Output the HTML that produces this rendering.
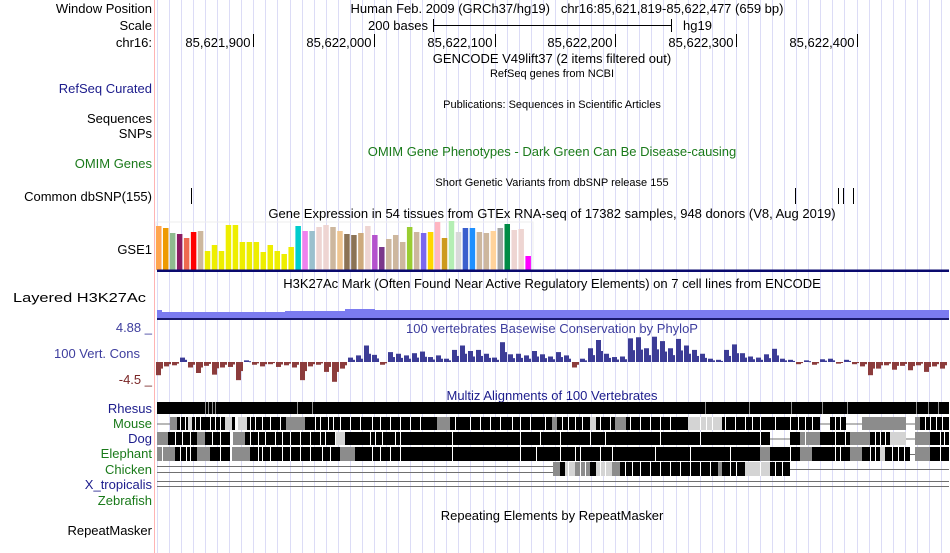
<!DOCTYPE html>
<html><head><meta charset="utf-8"><style>
html,body{margin:0;padding:0;background:#fff;}
svg{display:block;font-family:"Liberation Sans",sans-serif;}
</style></head><body>
<svg id="c" width="950" height="553" viewBox="0 0 950 553">
<g id="grid"></g>
<line x1="154.5" y1="0" x2="154.5" y2="553" stroke="#ffb4b4"/>
<g font-size="13" fill="#000" text-anchor="end">
<text x="152" y="13">Window Position</text>
<text x="152" y="30">Scale</text>
<text x="152" y="47">chr16:</text>
<text x="152" y="93" fill="#1c1c8c">RefSeq Curated</text>
<text x="152" y="123">Sequences</text>
<text x="152" y="138">SNPs</text>
<text x="152" y="168" fill="#1a7a1a">OMIM Genes</text>
<text x="152" y="201">Common dbSNP(155)</text>
<text x="152" y="254">GSE1</text>
<text x="146" y="302" textLength="133" lengthAdjust="spacingAndGlyphs">Layered H3K27Ac</text>
<text x="152" y="332" fill="#3e3e9e">4.88 _</text>
<text x="140" y="358" fill="#3e3e9e">100 Vert. Cons</text>
<text x="152" y="384" fill="#7a2626">-4.5 _</text>
<text x="152" y="413" fill="#1c1c8c">Rhesus</text>
<text x="152" y="428" fill="#1a7a1a">Mouse</text>
<text x="152" y="443" fill="#1c1c8c">Dog</text>
<text x="152" y="458" fill="#1a7a1a">Elephant</text>
<text x="152" y="474" fill="#1a7a1a">Chicken</text>
<text x="152" y="489" fill="#1c1c8c">X_tropicalis</text>
<text x="152" y="505" fill="#1a7a1a">Zebrafish</text>
<text x="152" y="535">RepeatMasker</text>
</g>
<g font-size="13" text-anchor="middle">
<text x="567" y="13">Human Feb. 2009 (GRCh37/hg19)&#160;&#160;&#160;chr16:85,621,819-85,622,477 (659 bp)</text>
<text x="552" y="63">GENCODE V49lift37 (2 items filtered out)</text>
<text x="552" y="77" font-size="11">RefSeq genes from NCBI</text>
<text x="552" y="108" font-size="11">Publications: Sequences in Scientific Articles</text>
<text x="552" y="156" fill="#1a7a1a">OMIM Gene Phenotypes - Dark Green Can Be Disease-causing</text>
<text x="552" y="186" font-size="11">Short Genetic Variants from dbSNP release 155</text>
<text x="552" y="218">Gene Expression in 54 tissues from GTEx RNA-seq of 17382 samples, 948 donors (V8, Aug 2019)</text>
<text x="552" y="288">H3K27Ac Mark (Often Found Near Active Regulatory Elements) on 7 cell lines from ENCODE</text>
<text x="552" y="333" fill="#3e3e9e">100 vertebrates Basewise Conservation by PhyloP</text>
<text x="552" y="400" fill="#1c1c8c">Multiz Alignments of 100 Vertebrates</text>
<text x="552" y="520">Repeating Elements by RepeatMasker</text>
</g>
<g font-size="13">
<text x="428" y="30" text-anchor="end">200 bases</text>
<line x1="433" y1="25.5" x2="672" y2="25.5" stroke="#000"/>
<line x1="433.5" y1="19" x2="433.5" y2="32" stroke="#000"/>
<line x1="671.5" y1="19" x2="671.5" y2="32" stroke="#000"/>
<text x="683" y="30">hg19</text>
</g>
<g id="ruler" font-size="13"></g>
<g id="snps"></g>
<g id="gtex"></g>
<rect x="157" y="269.5" width="792" height="2.5" fill="#0a0a6e"/>
<g>
<rect x="157" y="312" width="792" height="6" fill="#7b7bf0"/>
<rect x="157" y="310" width="5" height="2" fill="#7b7bf0"/>
<rect x="285" y="311" width="80" height="1" fill="#7b7bf0"/>
<rect x="345" y="309" width="30" height="3" fill="#7b7bf0"/>
<rect x="345" y="310" width="604" height="2" fill="#7b7bf0"/>
<rect x="157" y="318" width="792" height="2" fill="#1a1a6e"/>
</g>
<g id="cons"></g>
<g id="multiz"></g>
</svg>
<script>
// GTEx expression (relative heights, px)
const gtexValues=[44,42,37,36,32,38,39,19,25,19,45,45,28,28,28,18,25,19,16,23,44,39,39,43,45,43,39,36,35,37,44,35,23,31,35,28,43,38,37,38,48,32,49,38,42,42,38,37,39,42,46,40,41,14];
const gtexColors=["#FFA54F","#EE9A00","#8FBC8F","#8B1C62","#EE6A50","#FF0000","#CDB79E","#EEEE00","#EEEE00","#EEEE00","#EEEE00","#EEEE00","#EEEE00","#EEEE00","#EEEE00","#EEEE00","#EEEE00","#EEEE00","#EEEE00","#EEEE00","#00CDCD","#EE82EE","#9AC0CD","#EED5D2","#EED5D2","#CDB79E","#EEC591","#8B7355","#8B7355","#CDAA7D","#EED5D2","#B452CD","#7A378B","#CDB79E","#CDB79E","#CDB79E","#9ACD32","#CDB79E","#7A67EE","#FFD700","#FFB6C1","#CD9B1D","#B4EEB4","#D9D9D9","#3A5FCD","#1E90FF","#CDB79E","#CDB79E","#FFD39B","#A6A6A6","#008B45","#EED5D2","#EED5D2","#FF00FF"];
// PhyloP scores, sampled every 10 bp approx
const consValues=[-2.4,-0.8,-0.6,0.8,-1.0,-2.0,-0.7,-2.3,-1.0,-0.9,-3.3,0.3,-0.5,-0.8,-0.4,-0.9,-0.6,-1.0,-3.3,-0.8,-0.5,-1.8,-3.6,-1.2,0.8,1.2,3.0,1.3,-0.5,1.8,1.5,1.2,1.6,1.9,0.9,1.2,0.6,2.2,3.0,2.0,2.2,1.5,0.8,3.6,1.4,1.5,1.2,2.0,1.4,1.0,1.8,1.2,-1.0,0.6,2.5,4.0,1.5,0.9,1.0,4.3,4.5,2.5,4.6,3.8,2.5,4.2,3.0,2.2,1.5,0.6,0.4,2.2,3.2,1.6,1.0,0.8,1.4,2.4,0.6,0.4,-0.4,0.3,-0.5,0.5,0.6,-0.3,0.4,-0.4,-0.8,-2.4,-1.2,-0.6,-1.4,-0.7,-1.5,-0.6,-1.8,-0.8,-1.2];
const rulerTicks=[85621900,85622000,85622100,85622200,85622300,85622400];
const rulerLabels=["85,621,900","85,622,000","85,622,100","85,622,200","85,622,300","85,622,400"];
const snpPositions=[85621848,85622349,85622385,85622389,85622397];

const NS='http://www.w3.org/2000/svg';
const bpStart=85621819, pxPerBp=795/659, left=155;
const xBp=bp=>left+(bp-bpStart+0.5)*pxPerBp;
function mk(tag,attrs,parent){const e=document.createElementNS(NS,tag);for(const k in attrs)e.setAttribute(k,attrs[k]);parent.appendChild(e);return e;}
const $=id=>document.getElementById(id);

// grid
for(let bp=85621820;bp<=85622480;bp+=10){const x=Math.round(xBp(bp))+0.5;if(x>155&&x<950){const l=mk('line',{x1:x,y1:0,x2:x,y2:553,stroke:'#dcdcf6'},$('grid'));

}}

// ruler
rulerTicks.forEach((bp,i)=>{const x=Math.round(xBp(bp))+0.5;
const l=mk('line',{x1:x,y1:34,x2:x,y2:47,stroke:'#000'},$('ruler'));


const t=mk('text',{x:x-3,y:47,'text-anchor':'end'},$('ruler'));t.textContent=rulerLabels[i];

});

// dbSNP ticks
snpPositions.forEach(bp=>{const x=Math.round(xBp(bp))+0.5;
const l=mk('line',{x1:x,y1:188,x2:x,y2:204,stroke:'#000'},$('snps'));

});

// GTEx
mk('rect',{x:156,y:222,width:377,height:48,fill:'none',stroke:'#eeeeee'},$('gtex'));
const gBase=270, gStep=6.97;
gtexValues.forEach((v,i)=>{const r=mk('rect',{x:156+i*gStep,y:gBase-v,width:5.5,height:v,fill:gtexColors[i]},$('gtex'));

});

// PhyloP
const zeroY=362, unit=5.5, cStep=8;
consValues.forEach((v,i)=>{const x=156+i*cStep;const h=Math.abs(v)*unit;
const r=mk('rect',{x:x,y:v>=0?zeroY-h:zeroY,width:5,height:Math.max(h,1),fill:v>=0?'#3c3c96':'#8c3c3c'},$('cons'));


const r2=mk('rect',{x:x+5,y:v>=0?zeroY-h*0.5:zeroY,width:2,height:Math.max(h*0.5,1),fill:v>=0?'#3c3c96':'#8c3c3c'},$('cons'));

});

// Multiz rows: [x0,x1,type]
const C={k:'#000',g:'#8c8c8c',l:'#d4d4d4'};
const rows=[
 {y:402,h:12,seg:[[157,949,'k']],div:[205,208,212,215,297,312,705,749,791,822,847,916,928,938]},
 {y:417,h:13,seg:[[157,170,'-'],[170,177,'g'],[177,235,'k'],[188,192,'l'],[225,232,'l'],[238,247,'l'],[247,286,'k'],[286,305,'g'],[305,437,'k'],[437,450,'g'],[450,552,'k'],[552,557,'g'],[557,590,'k'],[590,596,'l'],[596,615,'k'],[615,626,'g'],[626,688,'k'],[688,722,'l'],[722,820,'k'],[820,830,'-'],[830,846,'k'],[846,862,'-'],[862,878,'g'],[878,891,'g'],[891,906,'g'],[906,915,'-'],[915,949,'k'],[915,920,'g']],div:[180,185,195,200,210,215,220,250,255,262,270,280,315,320,328,333,340,350,360,372,380,390,400,410,420,455,470,480,490,500,512,520,530,545,562,568,575,582,600,610,630,640,650,660,670,700,706,712,725,735,745,752,760,775,790,798,805,812,835,840,925,930,936,942]},
 {y:432,h:13,seg:[[157,168,'g'],[168,197,'k'],[197,205,'g'],[205,230,'k'],[233,245,'g'],[245,335,'k'],[336,345,'l'],[345,770,'k'],[770,790,'-'],[790,800,'k'],[800,820,'g'],[820,850,'k'],[850,870,'g'],[870,890,'k'],[890,906,'l'],[906,915,'-'],[915,930,'g'],[930,949,'k']],div:[175,182,190,212,220,250,258,265,275,282,290,300,310,320,325,370,375,382,395,400,452,520,540,560,590,605,660,700,760,805,835,845,875,880,885,940,944]},
 {y:447,h:14,seg:[[157,175,'g'],[175,197,'k'],[197,210,'g'],[210,230,'k'],[232,250,'g'],[250,340,'k'],[340,355,'g'],[355,760,'k'],[760,770,'g'],[770,800,'k'],[800,812,'g'],[812,850,'k'],[850,862,'g'],[862,880,'k'],[880,885,'l'],[885,910,'k'],[910,915,'-'],[915,930,'g'],[930,949,'k']],div:[162,180,186,190,220,258,262,270,282,290,300,310,322,330,372,380,390,400,452,520,536,560,575,580,600,612,655,690,730,790,835,840,870,875,892,898,904,940]},
 {y:462,h:14,seg:[[157,553,'='],[553,560,'g'],[560,565,'k'],[565,575,'l'],[575,590,'g'],[590,596,'k'],[596,612,'l'],[612,620,'g'],[620,718,'k'],[718,722,'g'],[722,745,'k'],[745,770,'l'],[770,790,'k'],[790,949,'-']],div:[568,580,585,600,605,625,632,640,650,660,670,680,690,700,710,730,736,760,775,782]}
];
rows.forEach((row,ri)=>{const g=mk('g',{},$('multiz'));


row.seg.forEach(s=>{
 if(s[2]==='-'){const l=mk('line',{x1:s[0],y1:row.y+row.h/2+0.5,x2:s[1],y2:row.y+row.h/2+0.5,stroke:'#707070'},g);
  
  }
 else if(s[2]==='='){[row.y+4.5,row.y+10.5].forEach(yy=>{const l=mk('line',{x1:s[0],y1:yy,x2:s[1],y2:yy,stroke:'#707070'},g);
  
  });}
 else{const r=mk('rect',{x:s[0],y:row.y,width:s[1]-s[0],height:row.h,fill:C[s[2]]},g);
  
  }
});
row.div.forEach(x=>{const l=mk('rect',{x:x,y:row.y,width:1,height:row.h,fill:ri===0?'#909090':'#ffffff'},g);
 
 });
});
[481.5,486.5].forEach(yy=>{const l=mk('line',{x1:157,y1:yy,x2:949,y2:yy,stroke:'#707070'},$('multiz'));

});
</script>
</body></html>
